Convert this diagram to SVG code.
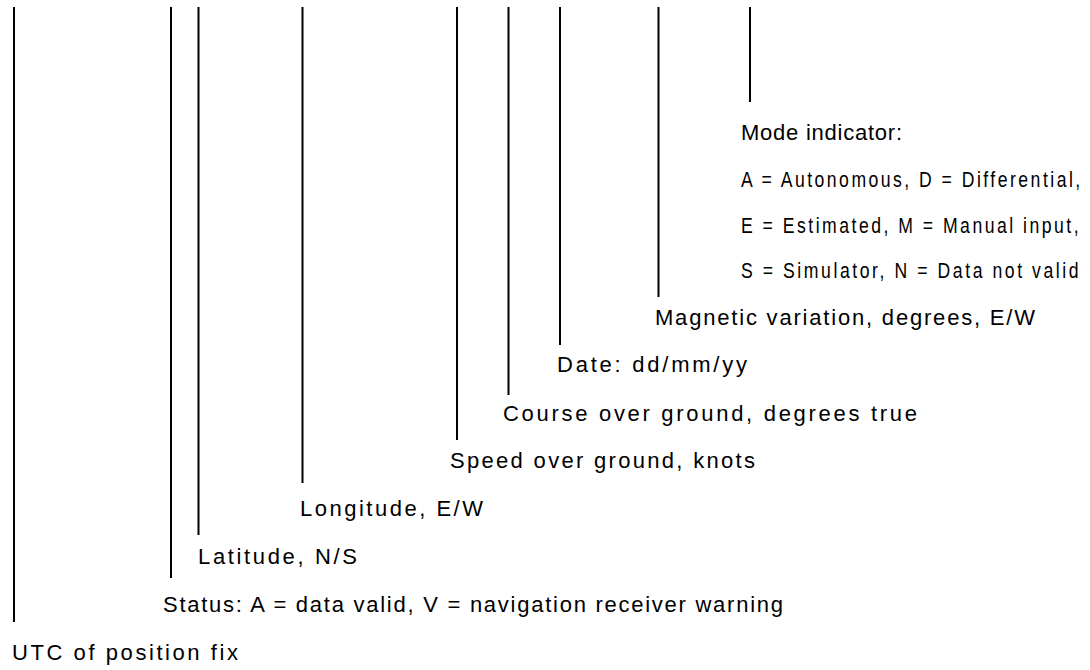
<svg xmlns="http://www.w3.org/2000/svg" width="1090" height="670" viewBox="0 0 1090 670">
<style>
.ln{stroke:#000;stroke-width:2;fill:none}
.t{font-family:"Liberation Sans",Arial,sans-serif;font-size:22px;fill:#000}
.c{font-family:"Liberation Sans",Arial,sans-serif;font-size:22px;fill:#000}
</style>
<rect width="1090" height="670" fill="#fff"/>
<g id="connectors">
<line class="ln" x1="14" y1="7" x2="14" y2="622"/>
<line class="ln" x1="171" y1="7" x2="171" y2="578"/>
<line class="ln" x1="198.5" y1="7" x2="198.5" y2="535"/>
<line class="ln" x1="302.5" y1="7" x2="302.5" y2="483"/>
<line class="ln" x1="457" y1="7" x2="457" y2="440"/>
<line class="ln" x1="508.5" y1="7" x2="508.5" y2="395"/>
<line class="ln" x1="560" y1="7" x2="560" y2="345"/>
<line class="ln" x1="658.5" y1="7" x2="658.5" y2="297"/>
<line class="ln" x1="750" y1="7" x2="750" y2="102"/>
</g>
<g id="mode">
<text class="t" x="741" y="140" textLength="161" lengthAdjust="spacing">Mode indicator:</text>
<g transform="translate(741,0) scale(0.8,1)">
<text class="c" x="0" y="187" textLength="424" lengthAdjust="spacing">A = Autonomous, D = Differential,</text>
<text class="c" x="0" y="233" textLength="422" lengthAdjust="spacing">E = Estimated, M = Manual input,</text>
<text class="c" x="0" y="278" textLength="422" lengthAdjust="spacing">S = Simulator, N = Data not valid</text>
</g>
</g>
<g id="magnetic"><text class="t" x="655" y="325" textLength="380" lengthAdjust="spacing">Magnetic variation, degrees, E/W</text></g>
<g id="date"><text class="t" x="557" y="372" textLength="190" lengthAdjust="spacing">Date: dd/mm/yy</text></g>
<g id="course"><text class="t" x="503" y="421" textLength="414" lengthAdjust="spacing">Course over ground, degrees true</text></g>
<g id="speed"><text class="t" x="450" y="468" textLength="305" lengthAdjust="spacing">Speed over ground, knots</text></g>
<g id="longitude"><text class="t" x="300" y="516" textLength="183" lengthAdjust="spacing">Longitude, E/W</text></g>
<g id="latitude"><text class="t" x="198" y="564" textLength="159" lengthAdjust="spacing">Latitude, N/S</text></g>
<g id="status"><text class="t" x="163" y="612" textLength="620" lengthAdjust="spacing">Status: A = data valid, V = navigation receiver warning</text></g>
<g id="utc"><text class="t" x="12" y="660" textLength="226" lengthAdjust="spacing">UTC of position fix</text></g>
</svg>
